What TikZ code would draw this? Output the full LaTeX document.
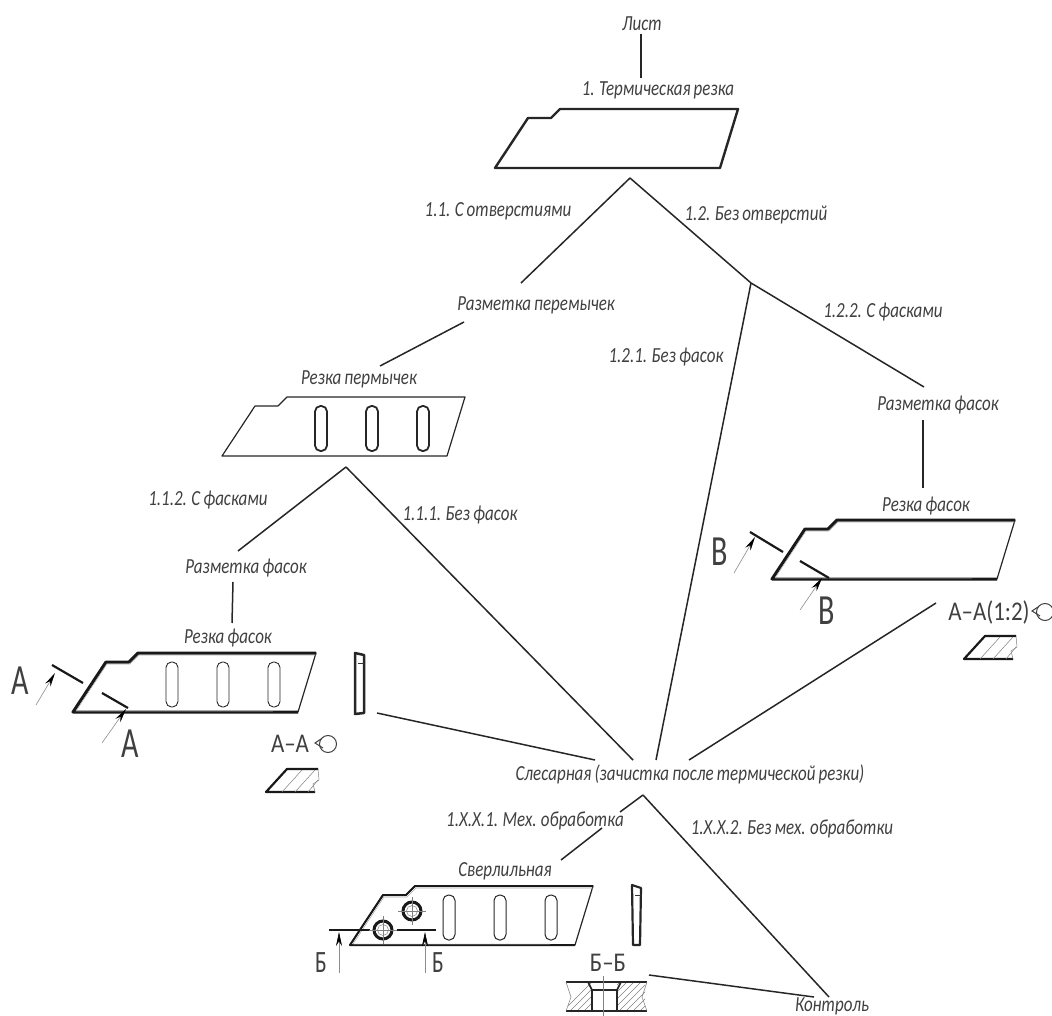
\documentclass[tikz,border=0pt]{standalone}
\usepackage{fontspec}
\usepackage{xcolor}
\setmainfont{Carlito}[FakeStretch=0.79,WordSpace=0.8]
\newfontfamily\gostup{Carlito}[FakeStretch=0.7]
\newfontfamily\gostmid{Carlito}[FakeStretch=0.85]
\usetikzlibrary{arrows.meta}

\begin{document}
\begin{tikzpicture}[
      x=1pt, y=-1pt,
      line width=1.2pt,
      lbl/.style={font=\fontsize{21.5}{21.5}\selectfont\itshape,text=black!75,
                  inner sep=0pt,text height=19pt,text depth=3pt},
      biglbl/.style={font=\gostup\fontsize{43}{43}\selectfont,text=black!75,inner sep=0pt},
      seclbl/.style={font=\gostmid\fontsize{27}{27}\selectfont,text=black!75,inner sep=0pt},
      midlbl/.style={font=\gostup\fontsize{31}{31}\selectfont,text=black!75,inner sep=0pt},
      conn/.style={draw=black!85,line width=1.5pt},
      outline/.style={draw=black!85,line join=round},
      cutline/.style={draw=black!90,line width=2.2pt},
      cutarrow/.style={draw=black!45,line width=0.6pt,-{Stealth[black,length=14pt,width=6pt]}},
      hatch/.style={draw=black!50,line width=0.5pt},
      plate/.pic={
        \draw[outline] (0,0) -- (33,-50) -- (56,-50) -- (65,-59) -- (243,-59) -- (225,0) -- cycle;
      },
      chamfer/.pic={
        \draw[black!90,line join=round] (225,0) -- (0,0) -- (33,-50) -- (56,-50) -- (65,-59) -- (243,-59);
        \draw[black!35,line width=0.5pt,line join=round] (200,-1) -- (3,-1) -- (34,-48) -- (57,-48) -- (66,-57) -- (243,-57);
      },
      slots/.pic={
        \foreach \sx in {99,150,201}
          \draw[outline,rounded corners=5.5pt] (\sx-6,-50) rectangle (\sx+6,-5);
      },
      section/.pic={
        \draw[black!90,line width=2.2pt,line join=round] (49,0) -- (0,0) -- (21,-23) -- (52,-23);
        \draw[hatch] (52,-23) -- (53,-12) -- (47,-8) -- (49,0);
        \draw[hatch] (16,0) -- (36,-22) (29,0) -- (49,-22) (42,0) -- (52,-12);
      },
      rotmark/.pic={
        \draw[black!75,line width=1pt] (0,0) circle (8.5pt);
        \draw[black!75,line width=1pt] (-7,-5) -- (-13,-1) -- (-5,4);
      }
    ]
    \useasboundingbox (0,0) rectangle (1052,1016);

    % Operations
    \node[lbl] (sheet) at (642,23) {Лист};
    \node[lbl] (cut) at (658,88) {1. Термическая резка};
    \node[lbl] (markjump) at (536,303) {Разметка перемычек};
    \node[lbl] (cutjump) at (359,376) {Резка пермычек};
    \node[lbl] (markleft) at (246,565) {Разметка фасок};
    \node[lbl] (cutleft) at (228,635) {Резка фасок};
    \node[lbl] (markright) at (938,402) {Разметка фасок};
    \node[lbl] (cutright) at (926,503) {Резка фасок};
    \node[lbl] (bench) at (690,772) {Слесарная (зачистка после термической резки)};
    \node[lbl] (drill) at (505,868) {Сверлильная};
    \node[lbl] (control) at (832,1003) {Контроль};

    % Branch labels
    \node[lbl] (holes) at (498,209) {1.1. С отверстиями};
    \node[lbl] (noholes) at (756,213) {1.2. Без отверстий};
    \node[lbl] (chamfa) at (883,310) {1.2.2. С фасками};
    \node[lbl] (nochamfa) at (666,354) {1.2.1. Без фасок};
    \node[lbl] (chamfb) at (208,497) {1.1.2. С фасками};
    \node[lbl] (nochamfb) at (460,512) {1.1.1. Без фасок};
    \node[lbl] (mech) at (535,818) {1.Х.Х.1. Мех. обработка};
    \node[lbl] (nomech) at (792,826) {1.Х.Х.2. Без мех. обработки};

    % Section letters
    \node[biglbl] (aone) at (20,681) {А};
    \node[biglbl] (atwo) at (130,744) {А};
    \node[biglbl] (vone) at (720,552) {В};
    \node[biglbl] (vtwo) at (827,611) {В};
    \node[midlbl] (bone) at (321,963) {Б};
    \node[midlbl] (btwo) at (438,963) {Б};
    \node[seclbl] (aasec) at (290,744) {А–А};
    \node[seclbl] (aascale) at (989,612) {А–А(1:2)};
    \node[seclbl] (bbsec) at (608,963) {Б–Б};

    % Free ends of connectors
    \coordinate (apextop) at (630,178);
    \coordinate (fork) at (751,283);
    \coordinate (apexjump) at (346,467);
    \coordinate (apexbench) at (643,795);
    \coordinate (sideleft) at (377,713);

    % Parts
    \pic[line width=2.4pt] at (495,168) {plate};
    \pic at (222,456) {plate};
    \pic[line width=1.8pt] at (222,456) {slots};
    \pic at (73,712) {plate};
    \pic[line width=3pt] at (73,712) {chamfer};
    \pic[line width=0.9pt] at (73,712) {slots};
    \pic at (772,579) {plate};
    \pic[line width=3pt] at (772,579) {chamfer};
    \pic at (350,945) {plate};
    \pic[line width=2pt] at (350,945) {chamfer};
    \pic[line width=1pt] at (350,945) {slots};
    \pic at (266,792) {section};
    \pic at (964,659) {section};
    \pic at (328,744) {rotmark};
    \pic at (1045,612) {rotmark};

    % Side views
    \draw[outline,line width=2.5pt] (355,653) -- (364,655) -- (364,713) -- (355,714) -- cycle;
    \draw[black!80,line width=0.8pt] (358,663) -- (364,663);
    \draw[outline,line width=2.2pt] (632,885) -- (641,888) -- (640,945) -- (633,945) -- cycle;
    \draw[black!80,line width=0.8pt] (635,895) -- (641,895);

    % Cutting planes
    \draw[cutline] (52,665) -- (83,683);
    \draw[cutline] (102,693) -- (128,708);
    \draw[cutarrow] (36,705) -- (55,673);
    \draw[cutarrow] (102,743) -- (126,709);
    \draw[cutline] (750,532) -- (783,552);
    \draw[cutline] (800,561) -- (829,578);
    \draw[cutarrow] (734,573) -- (755,537);
    \draw[cutarrow] (800,610) -- (822,578);
    \draw[cutline] (329,930) -- (370,930);
    \draw[cutline] (397,930) -- (436,930);
    \draw[cutarrow] (339,973) -- (339,932);
    \draw[cutarrow] (425,973) -- (425,932);

    % Drilled holes
    \foreach \hx/\hy in {383/930,412/911} {
      \draw[black!90,line width=3pt] (\hx,\hy) circle (9pt);
      \draw[black!50,line width=0.5pt] (\hx,\hy) circle (5.5pt);
      \draw[black!50,line width=0.5pt] (\hx-14,\hy) -- (\hx+14,\hy) (\hx,\hy-14) -- (\hx,\hy+14);
    }

    % Section through the hole
    \begin{scope}
      \clip (568,982) rectangle (592,1011) (617,982) rectangle (645,1011);
      \foreach \hs in {0,7,...,91}
        \draw[hatch] (563+\hs,1011) -- (563+\hs+29,982);
    \end{scope}
    \draw[black!85] (566,982) -- (647,982) (566,1011) -- (647,1011);
    \draw[black!85,line width=1.7pt] (588,982) -- (592,990) -- (592,1011) (621,982) -- (617,990) -- (617,1011) (592,990) -- (617,990);
    \draw[hatch] (566,982) -- (571,997) -- (566,1011) (647,982) -- (642,997) -- (647,1011);
    \draw[hatch] (603,976) -- (603,1016);

    % Connectors
    \draw[conn] ([shift={(-1,11)}]sheet.center) -- ([shift={(-17,-10)}]cut.center);
    \draw[conn] (apextop) -- ([shift={(-15,-20)}]markjump.center);
    \draw[conn] (apextop) -- (fork);
    \draw[conn] (fork) -- ([shift={(-14,-15)}]markright.center);
    \draw[conn] (fork) -- ([shift={(-34,-12)}]bench.center);
    \draw[conn] ([shift={(-72,19)}]markjump.center) -- ([shift={(21,-10)}]cutjump.center);
    \draw[conn] ([shift={(-15,18)}]markright.center) -- ([shift={(-3,-15)}]cutright.center);
    \draw[conn] (apexjump) -- ([shift={(-8,-14)}]markleft.center);
    \draw[conn] (apexjump) -- ([shift={(-57,-12)}]bench.center);
    \draw[conn] ([shift={(-13,17)}]markleft.center) -- ([shift={(4,-12)}]cutleft.center);
    \draw[conn] (sideleft) -- ([shift={(-95,-12)}]bench.center);
    \draw[conn] ([shift={(-53,-9)}]aascale.center) -- ([shift={(-1,-12)}]bench.center);
    \draw[conn] (apexbench) -- ([shift={(85,-6)}]mech.center);
    \draw[conn] ([shift={(67,10)}]mech.center) -- ([shift={(56,-8)}]drill.center);
    \draw[conn] (apexbench) -- ([shift={(-3,-6)}]control.center);
    \draw[conn] ([shift={(41,12)}]bbsec.center) -- ([shift={(-18,-6)}]control.center);

\end{tikzpicture}
\end{document}
